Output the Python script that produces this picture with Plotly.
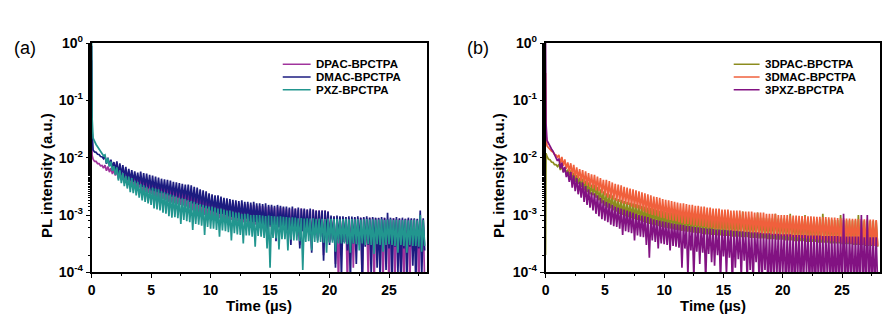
import plotly.graph_objects as go

# ---------------- data ----------------
# time axis: spike at t=0, then a regular 0.125 us sampling grid
TIME_US = [0.0, 0.04] + [0.125 * k for k in range(1, 225)]

# Panel (a): PL intensity (a.u.)
DPAC_BPCTPA = [
    0.5, 1.1e-2,
    9.4e-3, 8.6e-3, 8.6e-3, 7.9e-3, 7.9e-3, 7.2e-3, 7.3e-3, 6.6e-3,
    7.4e-3, 5.9e-3, 7.0e-3, 5.6e-3, 6.6e-3, 5.2e-3, 6.2e-3, 4.9e-3,
    6.0e-3, 4.3e-3, 5.7e-3, 4.1e-3, 5.4e-3, 3.9e-3, 5.1e-3, 3.6e-3,
    4.9e-3, 3.4e-3, 4.7e-3, 3.2e-3, 4.5e-3, 3.1e-3, 4.3e-3, 3.0e-3,
    4.4e-3, 2.6e-3, 4.2e-3, 2.5e-3, 4.0e-3, 2.4e-3, 3.8e-3, 2.3e-3,
    3.7e-3, 2.1e-3, 3.6e-3, 2.0e-3, 3.4e-3, 1.9e-3, 3.3e-3, 1.9e-3,
    3.2e-3, 1.8e-3, 3.1e-3, 1.7e-3, 3.0e-3, 1.65e-3, 2.9e-3, 1.6e-3,
    2.8e-3, 1.55e-3, 2.7e-3, 1.5e-3, 2.6e-3, 1.45e-3, 2.5e-3, 1.4e-3,
    2.5e-3, 1.3e-3, 2.4e-3, 1.2e-3, 2.3e-3, 1.15e-3, 2.2e-3, 1.1e-3,
    2.1e-3, 1.05e-3, 2.05e-3, 1.0e-3, 2.0e-3, 9.8e-4, 1.95e-3, 9.5e-4,
    1.9e-3, 9.2e-4, 1.85e-3, 9.0e-4, 1.8e-3, 8.8e-4, 1.8e-3, 8.6e-4,
    1.75e-3, 8.5e-4, 1.7e-3, 8.3e-4, 1.7e-3, 8.2e-4, 1.65e-3, 8.0e-4,
    1.65e-3, 7.8e-4, 1.6e-3, 7.6e-4, 1.6e-3, 7.4e-4, 1.55e-3, 7.5e-4,
    1.55e-3, 7.2e-4, 1.5e-3, 7.0e-4, 1.5e-3, 6.8e-4, 1.45e-3, 6.9e-4,
    1.45e-3, 6.6e-4, 1.45e-3, 5.0e-4, 1.4e-3, 6.4e-4, 1.4e-3, 6.2e-4,
    1.4e-3, 6.2e-4, 1.35e-3, 4.2e-4, 1.4e-3, 6.0e-4, 1.35e-3, 5.8e-4,
    1.35e-3, 5.8e-4, 1.3e-3, 3.6e-4, 1.3e-3, 5.6e-4, 1.3e-3, 5.5e-4,
    1.3e-3, 5.4e-4, 1.25e-3, 3.0e-4, 1.3e-3, 5.2e-4, 1.25e-3, 4.6e-4,
    1.25e-3, 5.0e-4, 1.2e-3, 2.6e-4, 1.25e-3, 4.8e-4, 1.2e-3, 4.0e-4,
    1.2e-3, 4.6e-4, 1.2e-3, 2.0e-4, 1.2e-3, 4.4e-4, 1.15e-3, 3.4e-4,
    9.2e-4, 3.8e-4, 9.4e-4, 1.4e-4, 9.0e-4, 6.5e-5, 9.2e-4, 3.6e-4,
    9.0e-4, 3.4e-4, 9.2e-4, 6.0e-5, 8.9e-4, 3.2e-4, 8.8e-4, 1.2e-4,
    9.0e-4, 3.2e-4, 8.8e-4, 3.0e-4, 9.0e-4, 5.0e-5, 8.8e-4, 3.0e-4,
    8.8e-4, 8.0e-5, 9.0e-4, 3.0e-4, 8.8e-4, 6.0e-5, 8.8e-4, 2.8e-4,
    8.8e-4, 2.8e-4, 8.6e-4, 7.0e-5, 8.8e-4, 2.6e-4, 8.5e-4, 5.0e-5,
    8.6e-4, 2.6e-4, 8.8e-4, 6.0e-5, 8.5e-4, 2.5e-4, 8.6e-4, 8.0e-5,
    8.4e-4, 5.0e-5, 8.6e-4, 2.4e-4, 8.5e-4, 6.0e-5, 8.4e-4, 2.4e-4,
    8.5e-4, 2.3e-4, 8.4e-4, 5.0e-5, 8.4e-4, 2.2e-4, 8.3e-4, 6.0e-5,
]
DMAC_BPCTPA = [
    0.9, 3.0e-2,
    1.36e-2, 1.26e-2, 1.24e-2, 1.15e-2, 1.14e-2, 1.05e-2, 1.04e-2, 9.6e-3,
    1.07e-2, 7.8e-3, 1.0e-2, 7.2e-3, 9.2e-3, 6.7e-3, 8.4e-3, 6.1e-3,
    8.6e-3, 5.2e-3, 8.0e-3, 4.9e-3, 7.4e-3, 4.5e-3, 6.9e-3, 4.1e-3,
    6.4e-3, 4.0e-3, 6.1e-3, 3.8e-3, 5.8e-3, 3.6e-3, 5.5e-3, 3.4e-3,
    5.7e-3, 3.1e-3, 5.4e-3, 3.0e-3, 5.3e-3, 2.9e-3, 5.0e-3, 2.7e-3,
    4.9e-3, 2.6e-3, 4.7e-3, 2.5e-3, 4.5e-3, 2.4e-3, 4.3e-3, 2.4e-3,
    4.2e-3, 2.3e-3, 4.1e-3, 2.2e-3, 4.0e-3, 2.1e-3, 3.8e-3, 2.1e-3,
    3.7e-3, 2.0e-3, 3.6e-3, 1.9e-3, 3.5e-3, 1.9e-3, 3.4e-3, 1.8e-3,
    3.4e-3, 1.7e-3, 3.3e-3, 1.6e-3, 3.1e-3, 1.55e-3, 3.0e-3, 1.5e-3,
    2.8e-3, 1.4e-3, 2.7e-3, 1.35e-3, 2.6e-3, 1.3e-3, 2.4e-3, 1.2e-3,
    2.3e-3, 1.15e-3, 2.2e-3, 1.1e-3, 2.2e-3, 1.05e-3, 2.1e-3, 1.05e-3,
    2.0e-3, 1.0e-3, 1.95e-3, 9.5e-4, 1.9e-3, 9.3e-4, 1.85e-3, 9.0e-4,
    1.8e-3, 8.8e-4, 1.75e-3, 8.5e-4, 1.8e-3, 8.4e-4, 1.7e-3, 8.6e-4,
    1.7e-3, 7.8e-4, 1.65e-3, 7.5e-4, 1.7e-3, 7.6e-4, 1.6e-3, 7.4e-4,
    1.6e-3, 6.8e-4, 1.55e-3, 6.5e-4, 1.6e-3, 4.8e-4, 1.5e-3, 6.6e-4,
    1.5e-3, 6.4e-4, 1.45e-3, 3.5e-4, 1.5e-3, 6.2e-4, 1.45e-3, 6.0e-4,
    1.4e-3, 5.8e-4, 1.4e-3, 5.5e-4, 1.35e-3, 3.0e-4, 1.4e-3, 5.6e-4,
    1.3e-3, 5.4e-4, 1.35e-3, 2.6e-4, 1.3e-3, 5.2e-4, 1.3e-3, 4.8e-4,
    1.25e-3, 4.8e-4, 1.3e-3, 2.2e-4, 1.25e-3, 4.6e-4, 1.2e-3, 3.6e-4,
    1.2e-3, 4.2e-4, 1.2e-3, 1.6e-4, 1.2e-3, 4.0e-4, 1.15e-3, 3.0e-4,
    9.8e-4, 3.6e-4, 9.5e-4, 1.2e-4, 9.8e-4, 3.8e-4, 9.5e-4, 8.0e-5,
    9.5e-4, 3.4e-4, 9.2e-4, 2.4e-4, 9.5e-4, 7.0e-5, 9.4e-4, 3.2e-4,
    9.2e-4, 1.4e-4, 9.5e-4, 3.4e-4, 9.0e-4, 6.0e-5, 9.2e-4, 2.8e-4,
    9.5e-4, 3.0e-4, 9.0e-4, 9.0e-5, 9.2e-4, 3.2e-4, 9.0e-4, 1.2e-4,
    9.0e-4, 7.0e-5, 9.2e-4, 3.0e-4, 9.0e-4, 1.1e-4, 1.1e-3, 2.6e-4,
    9.0e-4, 6.0e-5, 8.8e-4, 2.8e-4, 9.2e-4, 1.0e-4, 8.8e-4, 6.0e-5,
    9.0e-4, 2.6e-4, 8.6e-4, 7.0e-5, 9.0e-4, 2.8e-4, 8.8e-4, 1.3e-4,
    8.8e-4, 6.0e-5, 8.6e-4, 2.6e-4, 1.2e-3, 8.0e-5, 8.8e-4, 2.4e-4,
]
PXZ_BPCTPA = [
    1.0, 5.0e-2,
    2.2e-2, 1.9e-2, 1.7e-2, 1.55e-2, 1.4e-2, 1.3e-2, 1.18e-2, 1.08e-2,
    1.12e-2, 8.0e-3, 9.8e-3, 7.0e-3, 8.5e-3, 5.9e-3, 7.1e-3, 5.0e-3,
    6.8e-3, 4.0e-3, 6.0e-3, 3.6e-3, 5.4e-3, 3.2e-3, 4.8e-3, 2.9e-3,
    4.7e-3, 2.5e-3, 4.4e-3, 2.4e-3, 4.0e-3, 2.2e-3, 3.8e-3, 2.0e-3,
    3.5e-3, 1.8e-3, 3.3e-3, 1.7e-3, 3.1e-3, 1.6e-3, 2.9e-3, 1.5e-3,
    3.0e-3, 1.3e-3, 2.9e-3, 1.25e-3, 2.8e-3, 1.2e-3, 2.6e-3, 1.1e-3,
    2.5e-3, 1.05e-3, 2.4e-3, 9.5e-4, 2.3e-3, 9.0e-4, 2.2e-3, 9.2e-4,
    2.1e-3, 8.8e-4, 2.0e-3, 7.0e-4, 1.95e-3, 8.2e-4, 1.9e-3, 7.8e-4,
    1.8e-3, 7.5e-4, 1.75e-3, 5.5e-4, 1.7e-3, 7.0e-4, 1.6e-3, 6.8e-4,
    1.55e-3, 6.5e-4, 1.5e-3, 4.5e-4, 1.45e-3, 6.2e-4, 1.4e-3, 5.8e-4,
    1.4e-3, 5.8e-4, 1.35e-3, 5.5e-4, 1.3e-3, 4.2e-4, 1.3e-3, 5.4e-4,
    1.25e-3, 5.2e-4, 1.2e-3, 5.0e-4, 1.2e-3, 3.6e-4, 1.15e-3, 4.8e-4,
    1.1e-3, 4.6e-4, 1.1e-3, 4.5e-4, 1.05e-3, 3.2e-4, 1.05e-3, 4.4e-4,
    1.05e-3, 4.4e-4, 1.0e-3, 4.2e-4, 1.0e-3, 2.8e-4, 1.0e-3, 4.3e-4,
    1.0e-3, 4.2e-4, 9.8e-4, 4.0e-4, 9.6e-4, 2.6e-4, 9.8e-4, 1.2e-4,
    9.6e-4, 4.0e-4, 9.5e-4, 3.9e-4, 9.4e-4, 2.5e-4, 9.5e-4, 3.8e-4,
    9.3e-4, 3.8e-4, 9.2e-4, 2.4e-4, 9.0e-4, 3.7e-4, 9.1e-4, 3.6e-4,
    9.0e-4, 3.6e-4, 8.8e-4, 3.5e-4, 8.9e-4, 1.1e-4, 8.7e-4, 3.4e-4,
    8.8e-4, 3.5e-4, 8.7e-4, 2.4e-4, 8.8e-4, 3.4e-4, 8.6e-4, 3.3e-4,
    8.7e-4, 3.4e-4, 8.6e-4, 3.3e-4, 8.5e-4, 2.2e-4, 8.7e-4, 3.3e-4,
    8.6e-4, 3.3e-4, 8.5e-4, 2.3e-4, 8.6e-4, 3.2e-4, 8.4e-4, 3.2e-4,
    8.5e-4, 3.2e-4, 8.6e-4, 3.1e-4, 8.4e-4, 2.2e-4, 8.5e-4, 3.2e-4,
    8.4e-4, 3.1e-4, 8.5e-4, 2.4e-4, 8.3e-4, 3.2e-4, 8.4e-4, 3.0e-4,
    8.5e-4, 3.1e-4, 8.3e-4, 3.0e-4, 8.4e-4, 2.1e-4, 8.3e-4, 3.1e-4,
    8.3e-4, 3.0e-4, 8.4e-4, 2.3e-4, 8.2e-4, 3.0e-4, 8.3e-4, 3.1e-4,
    8.4e-4, 3.0e-4, 8.2e-4, 2.9e-4, 8.3e-4, 2.2e-4, 8.2e-4, 3.0e-4,
    8.2e-4, 2.9e-4, 8.3e-4, 2.2e-4, 8.1e-4, 3.0e-4, 8.2e-4, 2.9e-4,
    8.3e-4, 2.9e-4, 8.1e-4, 2.8e-4, 1.0e-3, 2.3e-4, 8.2e-4, 2.9e-4,
]

# Panel (b): PL intensity (a.u.)
DPAC3_BPCTPA = [
    2.0e-4, 1.2e-2,
    1.05e-2, 9.4e-3, 9.2e-3, 8.4e-3, 8.3e-3, 7.6e-3, 7.6e-3, 7.0e-3,
    7.7e-3, 6.1e-3, 7.2e-3, 5.7e-3, 6.7e-3, 5.3e-3, 6.2e-3, 4.9e-3,
    6.0e-3, 4.1e-3, 5.5e-3, 3.8e-3, 5.0e-3, 3.5e-3, 4.5e-3, 3.1e-3,
    4.3e-3, 2.7e-3, 4.0e-3, 2.5e-3, 3.7e-3, 2.3e-3, 3.4e-3, 2.2e-3,
    3.4e-3, 2.0e-3, 3.1e-3, 1.8e-3, 2.8e-3, 1.6e-3, 2.6e-3, 1.45e-3,
    2.4e-3, 1.35e-3, 2.3e-3, 1.3e-3, 2.2e-3, 1.2e-3, 2.0e-3, 1.15e-3,
    1.9e-3, 1.05e-3, 1.85e-3, 1.0e-3, 1.75e-3, 9.5e-4, 1.7e-3, 9.2e-4,
    1.65e-3, 8.8e-4, 1.6e-3, 8.5e-4, 1.55e-3, 8.2e-4, 1.5e-3, 8.0e-4,
    1.45e-3, 7.6e-4, 1.4e-3, 7.3e-4, 1.35e-3, 7.0e-4, 1.32e-3, 6.8e-4,
    1.3e-3, 6.6e-4, 1.25e-3, 6.4e-4, 1.2e-3, 6.2e-4, 1.2e-3, 6.0e-4,
    1.15e-3, 5.9e-4, 1.12e-3, 5.8e-4, 1.1e-3, 5.6e-4, 1.08e-3, 5.5e-4,
    1.05e-3, 5.4e-4, 1.04e-3, 5.3e-4, 1.02e-3, 5.2e-4, 1.0e-3, 5.1e-4,
    1.0e-3, 5.0e-4, 9.8e-4, 4.9e-4, 9.8e-4, 4.8e-4, 9.6e-4, 4.8e-4,
    9.6e-4, 4.7e-4, 9.5e-4, 4.6e-4, 9.5e-4, 4.6e-4, 9.4e-4, 4.5e-4,
    9.4e-4, 4.5e-4, 9.3e-4, 4.4e-4, 9.4e-4, 4.4e-4, 9.2e-4, 4.3e-4,
    9.3e-4, 4.3e-4, 9.2e-4, 4.3e-4, 9.2e-4, 4.2e-4, 9.1e-4, 4.2e-4,
    9.2e-4, 4.2e-4, 9.1e-4, 4.1e-4, 1.15e-3, 4.1e-4, 9.0e-4, 4.1e-4,
    9.0e-4, 4.0e-4, 9.0e-4, 4.0e-4, 9.0e-4, 4.0e-4, 1.1e-3, 3.9e-4,
    8.9e-4, 3.9e-4, 8.9e-4, 3.9e-4, 8.8e-4, 3.8e-4, 8.8e-4, 3.8e-4,
    8.8e-4, 3.8e-4, 1.05e-3, 3.7e-4, 8.7e-4, 3.7e-4, 8.7e-4, 3.7e-4,
    8.7e-4, 3.6e-4, 8.6e-4, 3.6e-4, 1.05e-3, 3.6e-4, 8.6e-4, 3.5e-4,
    8.6e-4, 3.5e-4, 8.5e-4, 3.5e-4, 8.5e-4, 3.5e-4, 1.0e-3, 3.4e-4,
    8.5e-4, 3.4e-4, 8.4e-4, 3.4e-4, 8.4e-4, 3.4e-4, 8.4e-4, 3.3e-4,
    8.4e-4, 3.3e-4, 1.05e-3, 3.3e-4, 8.3e-4, 3.3e-4, 8.3e-4, 3.2e-4,
    8.3e-4, 3.2e-4, 8.2e-4, 3.2e-4, 8.2e-4, 3.2e-4, 1.0e-3, 3.1e-4,
    8.2e-4, 3.1e-4, 8.1e-4, 3.1e-4, 8.1e-4, 3.1e-4, 8.1e-4, 3.0e-4,
    8.1e-4, 3.0e-4, 1.0e-3, 3.0e-4, 8.0e-4, 3.0e-4, 8.0e-4, 2.9e-4,
    8.0e-4, 2.9e-4, 7.9e-4, 2.9e-4, 7.9e-4, 2.9e-4, 7.9e-4, 2.8e-4,
]
DMAC3_BPCTPA = [
    0.3, 2.5e-2,
    1.6e-2, 1.48e-2, 1.42e-2, 1.3e-2, 1.26e-2, 1.15e-2, 1.12e-2, 1.02e-2,
    1.12e-2, 7.9e-3, 1.03e-2, 7.2e-3, 9.3e-3, 6.4e-3, 8.3e-3, 5.7e-3,
    8.0e-3, 5.0e-3, 7.5e-3, 4.6e-3, 6.8e-3, 4.3e-3, 6.3e-3, 3.9e-3,
    6.1e-3, 3.5e-3, 5.8e-3, 3.3e-3, 5.4e-3, 3.1e-3, 5.1e-3, 2.9e-3,
    5.0e-3, 2.7e-3, 4.7e-3, 2.6e-3, 4.4e-3, 2.4e-3, 4.1e-3, 2.2e-3,
    4.1e-3, 2.0e-3, 3.9e-3, 1.95e-3, 3.7e-3, 1.85e-3, 3.5e-3, 1.75e-3,
    3.4e-3, 1.7e-3, 3.3e-3, 1.6e-3, 3.1e-3, 1.55e-3, 3.0e-3, 1.5e-3,
    2.9e-3, 1.4e-3, 2.8e-3, 1.35e-3, 2.7e-3, 1.3e-3, 2.6e-3, 1.25e-3,
    2.5e-3, 1.15e-3, 2.4e-3, 1.1e-3, 2.3e-3, 1.05e-3, 2.2e-3, 1.0e-3,
    2.1e-3, 9.8e-4, 2.05e-3, 9.5e-4, 2.0e-3, 9.0e-4, 1.9e-3, 8.8e-4,
    1.85e-3, 8.4e-4, 1.8e-3, 8.2e-4, 1.75e-3, 8.0e-4, 1.7e-3, 7.8e-4,
    1.65e-3, 7.5e-4, 1.6e-3, 7.2e-4, 1.6e-3, 7.0e-4, 1.55e-3, 7.0e-4,
    1.5e-3, 6.8e-4, 1.5e-3, 6.6e-4, 1.45e-3, 6.5e-4, 1.45e-3, 6.4e-4,
    1.4e-3, 6.3e-4, 1.4e-3, 6.2e-4, 1.35e-3, 6.0e-4, 1.35e-3, 6.0e-4,
    1.3e-3, 5.8e-4, 1.3e-3, 5.7e-4, 1.3e-3, 5.6e-4, 1.25e-3, 5.6e-4,
    1.25e-3, 5.5e-4, 1.25e-3, 5.4e-4, 1.2e-3, 5.3e-4, 1.2e-3, 5.3e-4,
    1.2e-3, 5.2e-4, 1.2e-3, 5.1e-4, 1.15e-3, 5.0e-4, 1.15e-3, 5.0e-4,
    1.15e-3, 4.9e-4, 1.15e-3, 4.8e-4, 1.1e-3, 4.8e-4, 1.1e-3, 4.7e-4,
    1.1e-3, 4.7e-4, 1.1e-3, 4.6e-4, 1.05e-3, 4.6e-4, 1.05e-3, 4.5e-4,
    1.05e-3, 4.5e-4, 1.05e-3, 4.4e-4, 1.0e-3, 4.4e-4, 1.0e-3, 4.3e-4,
    1.0e-3, 4.3e-4, 1.0e-3, 4.2e-4, 9.8e-4, 4.2e-4, 9.8e-4, 4.1e-4,
    9.8e-4, 4.1e-4, 9.7e-4, 4.0e-4, 9.6e-4, 4.0e-4, 9.6e-4, 3.9e-4,
    9.5e-4, 3.9e-4, 9.5e-4, 3.8e-4, 9.4e-4, 3.8e-4, 9.3e-4, 3.7e-4,
    9.3e-4, 3.7e-4, 9.2e-4, 3.6e-4, 9.2e-4, 3.6e-4, 9.1e-4, 3.5e-4,
    9.0e-4, 3.5e-4, 9.0e-4, 3.4e-4, 8.9e-4, 3.4e-4, 8.8e-4, 3.3e-4,
    8.8e-4, 3.3e-4, 8.7e-4, 3.3e-4, 8.7e-4, 3.2e-4, 8.6e-4, 3.2e-4,
    8.6e-4, 3.2e-4, 8.5e-4, 3.1e-4, 8.5e-4, 3.1e-4, 8.4e-4, 3.0e-4,
    8.4e-4, 3.0e-4, 8.3e-4, 3.0e-4, 8.3e-4, 2.9e-4, 8.2e-4, 2.9e-4,
]
PXZ3_BPCTPA = [
    1.0, 4.0e-2,
    2.0e-2, 1.75e-2, 1.6e-2, 1.42e-2, 1.3e-2, 1.12e-2, 1.0e-2, 8.8e-3,
    9.6e-3, 6.5e-3, 8.2e-3, 5.5e-3, 6.9e-3, 4.6e-3, 5.7e-3, 3.8e-3,
    5.6e-3, 3.0e-3, 4.9e-3, 2.6e-3, 4.4e-3, 2.3e-3, 3.8e-3, 2.0e-3,
    3.7e-3, 1.7e-3, 3.2e-3, 1.5e-3, 2.8e-3, 1.35e-3, 2.5e-3, 1.2e-3,
    2.4e-3, 1.05e-3, 2.2e-3, 9.5e-4, 2.0e-3, 8.5e-4, 1.8e-3, 8.0e-4,
    1.7e-3, 7.5e-4, 1.6e-3, 6.8e-4, 1.5e-3, 6.4e-4, 1.4e-3, 6.2e-4,
    1.35e-3, 5.8e-4, 1.3e-3, 4.5e-4, 1.25e-3, 5.2e-4, 1.2e-3, 5.0e-4,
    1.15e-3, 4.8e-4, 1.1e-3, 3.6e-4, 1.05e-3, 4.4e-4, 1.0e-3, 4.2e-4,
    9.8e-4, 4.1e-4, 9.5e-4, 3.0e-4, 9.2e-4, 1.8e-4, 8.8e-4, 3.6e-4,
    8.4e-4, 3.4e-4, 8.2e-4, 2.6e-4, 8.0e-4, 3.2e-4, 7.8e-4, 3.1e-4,
    7.6e-4, 3.0e-4, 7.4e-4, 2.4e-4, 7.2e-4, 2.9e-4, 7.0e-4, 2.8e-4,
    6.9e-4, 2.7e-4, 6.8e-4, 1.2e-4, 6.7e-4, 2.6e-4, 6.5e-4, 9.0e-5,
    6.4e-4, 2.4e-4, 6.3e-4, 8.0e-5, 6.2e-4, 2.3e-4, 6.1e-4, 1.4e-4,
    6.0e-4, 2.2e-4, 5.9e-4, 7.0e-5, 5.8e-4, 2.1e-4, 5.8e-4, 1.5e-4,
    5.7e-4, 1.3e-4, 5.6e-4, 2.0e-4, 5.6e-4, 7.0e-5, 5.5e-4, 1.9e-4,
    5.5e-4, 9.0e-5, 5.4e-4, 1.8e-4, 5.4e-4, 6.0e-5, 5.3e-4, 1.2e-4,
    5.3e-4, 1.7e-4, 5.2e-4, 8.0e-5, 5.2e-4, 1.6e-4, 5.1e-4, 7.0e-5,
    5.1e-4, 1.1e-4, 5.0e-4, 6.0e-5, 5.0e-4, 1.5e-4, 5.0e-4, 8.0e-5,
    4.9e-4, 6.0e-5, 4.8e-4, 1.1e-4, 4.8e-4, 5.0e-5, 4.8e-4, 7.0e-5,
    4.7e-4, 6.0e-5, 4.7e-4, 9.0e-5, 4.7e-4, 5.0e-5, 4.6e-4, 1.0e-4,
    4.6e-4, 5.0e-5, 4.6e-4, 7.0e-5, 4.6e-4, 6.0e-5, 4.5e-4, 5.0e-5,
    4.5e-4, 8.0e-5, 4.5e-4, 5.0e-5, 4.5e-4, 6.0e-5, 4.5e-4, 1.0e-4,
    4.4e-4, 5.0e-5, 4.4e-4, 6.0e-5, 4.4e-4, 5.0e-5, 4.4e-4, 7.0e-5,
    4.4e-4, 6.0e-5, 4.3e-4, 5.0e-5, 4.3e-4, 9.0e-5, 4.3e-4, 5.0e-5,
    4.3e-4, 6.0e-5, 4.3e-4, 5.0e-5, 4.3e-4, 7.0e-5, 4.2e-4, 5.0e-5,
    1.05e-3, 6.0e-5, 4.2e-4, 5.0e-5, 4.2e-4, 8.0e-5, 4.2e-4, 5.0e-5,
    4.2e-4, 6.0e-5, 4.2e-4, 5.0e-5, 1.0e-3, 6.0e-5, 4.1e-4, 5.0e-5,
    1.0e-3, 5.0e-5, 4.1e-4, 6.0e-5, 4.1e-4, 5.0e-5, 4.1e-4, 6.0e-5,
]

X_TICKS = [0, 5, 10, 15, 20, 25]
Y_TICKS = [1e-4, 1e-3, 1e-2, 1e-1, 1e0]
Y_TICK_TEXT = ["<b>10<sup>-4</sup></b>", "<b>10<sup>-3</sup></b>", "<b>10<sup>-2</sup></b>",
               "<b>10<sup>-1</sup></b>", "<b>10<sup>0</sup></b>"]

for arr in (DPAC_BPCTPA, DMAC_BPCTPA, PXZ_BPCTPA, DPAC3_BPCTPA, DMAC3_BPCTPA, PXZ3_BPCTPA):
    assert len(arr) == len(TIME_US), len(arr)

FONT = "Arial, Liberation Sans, sans-serif"
W, H = 889, 320

panels = [
    dict(names=["DPAC-BPCTPA", "DMAC-BPCTPA", "PXZ-BPCTPA"],
         data=[DPAC_BPCTPA, DMAC_BPCTPA, PXZ_BPCTPA],
         colors=["#a0339c", "#1c1c80", "#22968f"],
         xdom=[88 / W, 425 / W], label="(a)", label_x=21, ytitle_x=42,
         leg_x0=280, leg_x1=308),
    dict(names=["3DPAC-BPCTPA", "3DMAC-BPCTPA", "3PXZ-BPCTPA"],
         data=[DPAC3_BPCTPA, DMAC3_BPCTPA, PXZ3_BPCTPA],
         colors=["#8c8c1e", "#f0603c", "#821282"],
         xdom=[544 / W, 880 / W], label="(b)", label_x=476, ytitle_x=496,
         leg_x0=733, leg_x1=759),
]
LEG_ROWS = [57.5, 71, 84.5]
ydom = [1 - 278 / H, 1 - 35 / H]

fig = go.Figure()
for i, p in enumerate(panels):
    sfx = "" if i == 0 else "2"
    for name, vals, col in zip(p["names"], p["data"], p["colors"]):
        fig.add_trace(go.Scatter(
            x=TIME_US, y=vals, mode="lines", name=name,
            line=dict(color=col, width=1.7),
            xaxis="x" + sfx, yaxis="y" + sfx, showlegend=False,
        ))

axis_common = dict(showline=True, linecolor="black", linewidth=1.5, mirror=True,
                   showgrid=False, zeroline=False, ticks="outside", ticklen=4,
                   tickwidth=1.2, tickcolor="black",
                   tickfont=dict(family=FONT, size=14, color="black"))

layout = dict(width=W, height=H, margin=dict(l=0, r=0, t=0, b=0),
              paper_bgcolor="white", plot_bgcolor="white")

for i, p in enumerate(panels):
    sfx = "" if i == 0 else "2"
    layout["xaxis" + sfx] = dict(axis_common, domain=p["xdom"], range=[0, 28.2],
                                 anchor="y" + sfx, tickvals=X_TICKS,
                                 ticktext=["<b>%d</b>" % v for v in X_TICKS],
                                 minor=dict(ticks="outside", ticklen=2, dtick=2.5,
                                            tickcolor="black", showgrid=False))
    layout["yaxis" + sfx] = dict(axis_common, domain=ydom, type="log", range=[-4, 0],
                                 anchor="x" + sfx, tickvals=Y_TICKS, ticktext=Y_TICK_TEXT,
                                 minor=dict(ticks="outside", ticklen=2,
                                            tickcolor="black", showgrid=False))
fig.update_layout(**layout)

ann, shapes = [], []
for i, p in enumerate(panels):
    x0, x1 = p["xdom"]
    ann.append(dict(text="<b>Time (µs)</b>", x=(x0 + x1) / 2, y=1 - 313 / H,
                    xref="paper", yref="paper", showarrow=False,
                    xanchor="center", yanchor="middle",
                    font=dict(family=FONT, size=15, color="black")))
    ann.append(dict(text="<b>PL intensity (a.u.)</b>", x=p["ytitle_x"] / W,
                    y=1 - 175 / H, xref="paper", yref="paper", showarrow=False,
                    xanchor="center", yanchor="middle",
                    textangle=-90, font=dict(family=FONT, size=15, color="black")))
    ann.append(dict(text=p["label"], x=p["label_x"] / W, y=1 - 40 / H,
                    xref="paper", yref="paper", showarrow=False,
                    xanchor="center", yanchor="middle",
                    font=dict(family=FONT, size=18, color="black")))
    # legend (line sample + label)
    for name, col, ry in zip(p["names"], p["colors"], LEG_ROWS):
        shapes.append(dict(type="line", xref="paper", yref="paper",
                           x0=p["leg_x0"] / W, x1=p["leg_x1"] / W,
                           y0=1 - ry / H, y1=1 - ry / H,
                           line=dict(color=col, width=1.5)))
        ann.append(dict(text="<b>" + name + "</b>", x=(p["leg_x1"] + 3) / W,
                        y=1 - ry / H, xref="paper", yref="paper", showarrow=False,
                        xanchor="left", yanchor="middle",
                        font=dict(family=FONT, size=11.5, color="black")))
fig.update_layout(annotations=ann, shapes=shapes)

fig.write_html("out.html", config={"displayModeBar": False},
               post_script="document.body.style.margin='0px';")
